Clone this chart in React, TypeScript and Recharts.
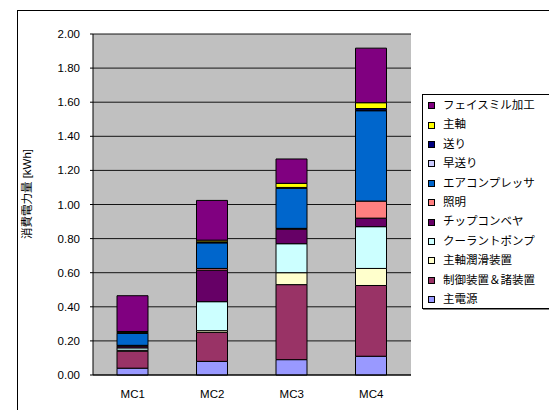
import React from 'react';
import { BarChart, Bar, XAxis, YAxis, CartesianGrid } from 'recharts';

const categories = ['MC1', 'MC2', 'MC3', 'MC4'];

// series listed bottom-to-top of the stack
const seriesNames = [
  '主電源',
  '制御装置＆諸装置',
  '主軸潤滑装置',
  'クーラントポンプ',
  'チップコンベヤ',
  '照明',
  'エアコンプレッサ',
  '早送り',
  '送り',
  '主軸',
  'フェイスミル加工',
];
const seriesColors = [
  '#9999FF',
  '#993366',
  '#FFFFCC',
  '#CCFFFF',
  '#660066',
  '#FF8080',
  '#0066CC',
  '#CCCCFF',
  '#000080',
  '#FFFF00',
  '#800080',
];

const mainPower = [0.04, 0.08, 0.09, 0.11];
const control = [0.10, 0.17, 0.44, 0.415];
const spindleLube = [0.005, 0.01, 0.07, 0.10];
const coolant = [0.014, 0.17, 0.17, 0.245];
const chipConveyor = [0.01, 0.185, 0.085, 0.05];
const lighting = [0.005, 0.01, 0.005, 0.10];
const airCompressor = [0.07, 0.15, 0.235, 0.53];
const rapidFeed = [0.003, 0.003, 0.003, 0.003];
const feed = [0.003, 0.003, 0.002, 0.01];
const spindle = [0.005, 0.01, 0.024, 0.034];
const faceMill = [0.21, 0.233, 0.143, 0.32];

const seriesValues = [
  mainPower,
  control,
  spindleLube,
  coolant,
  chipConveyor,
  lighting,
  airCompressor,
  rapidFeed,
  feed,
  spindle,
  faceMill,
];

const yTicks = [0, 0.2, 0.4, 0.6, 0.8, 1.0, 1.2, 1.4, 1.6, 1.8, 2.0];
const yLabel = '消費電力量 [kWh]';

const data = categories.map((c, i) => {
  const row: Record<string, string | number> = { name: c };
  seriesNames.forEach((s, j) => {
    row['s' + j] = seriesValues[j][i];
  });
  return row;
});

const FONT = '"Liberation Sans", Arial, "Noto Sans CJK JP", sans-serif';
const JFONT = '"Liberation Sans", "Noto Sans CJK JP", sans-serif';

const LegendBox = () => {
  const items = seriesNames.map((n, i) => ({ n, c: seriesColors[i] })).reverse();
  return (
    <div
      style={{
        position: 'absolute',
        left: 422,
        top: 94,
        width: 140,
        height: 215,
        border: '1px solid #000',
        boxShadow: '1px 1px 0 #808080',
        background: '#fff',
        boxSizing: 'border-box',
        paddingTop: 1,
        fontFamily: JFONT,
        fontSize: 11.5,
        color: '#000',
      }}
    >
      {items.map((it) => (
        <div
          key={it.n}
          style={{ display: 'flex', alignItems: 'center', height: 19.4, lineHeight: '19.4px' }}
        >
          <span
            style={{
              display: 'inline-block',
              width: 5,
              height: 5,
              background: it.c,
              border: '1px solid #000',
              marginLeft: 5,
              marginRight: 8,
            }}
          />
          <span style={{ whiteSpace: 'nowrap' }}>{it.n}</span>
        </div>
      ))}
    </div>
  );
};

export default function App() {
  return (
    <div
      style={{
        position: 'absolute',
        left: 0,
        top: 0,
        width: 549,
        height: 410,
        overflow: 'hidden',
        background: '#fff',
      }}
    >
      <div
        style={{
          position: 'absolute',
          left: 17,
          top: 10,
          width: 600,
          height: 500,
          border: '1px solid #000',
        }}
      />
      <div style={{ position: 'absolute', left: 0, top: 0 }}>
        <BarChart
          width={549}
          height={410}
          data={data}
          margin={{ top: 34, right: 138, left: 0, bottom: 5 }}
          barSize={31}
        >
          <CartesianGrid
            vertical={false}
            stroke="#000"
            strokeOpacity={0.9}
            fill="#C0C0C0"
            fillOpacity={1}
          />
          <XAxis
            dataKey="name"
            height={30}
            tickLine={false}
            axisLine={{ stroke: '#000' }}
            tick={{ fill: '#000', fontSize: 11.5, fontFamily: FONT }}
            tickMargin={9}
          />
          <XAxis
            xAxisId="top"
            orientation="top"
            dataKey="name"
            height={0}
            tick={false}
            tickLine={false}
            axisLine={{ stroke: '#808080' }}
          />
          <YAxis
            width={93}
            domain={[0, 2]}
            ticks={yTicks}
            interval={0}
            tickFormatter={(v: number) => v.toFixed(2)}
            tickSize={3}
            tickMargin={10}
            tickLine={{ stroke: '#000' }}
            axisLine={{ stroke: '#000' }}
            tick={{ fill: '#000', fontSize: 11.5, fontFamily: FONT }}
            label={{
              content: () => (
                <text
                  x={27}
                  y={194}
                  transform="rotate(-90 27 194)"
                  textAnchor="middle"
                  dominantBaseline="central"
                  fontSize={11.5}
                  fontFamily={JFONT}
                  fill="#000"
                >
                  {yLabel}
                </text>
              ),
            }}
          />
          <YAxis
            yAxisId="right"
            orientation="right"
            width={0}
            domain={[0, 2]}
            tick={false}
            tickLine={false}
            axisLine={{ stroke: '#808080' }}
          />
          {seriesNames.map((s, j) => (
            <Bar
              key={s}
              dataKey={'s' + j}
              name={s}
              stackId="a"
              fill={seriesColors[j]}
              stroke="#000"
              strokeWidth={1}
              isAnimationActive={false}
            />
          ))}
        </BarChart>
      </div>
      <LegendBox />
    </div>
  );
}
